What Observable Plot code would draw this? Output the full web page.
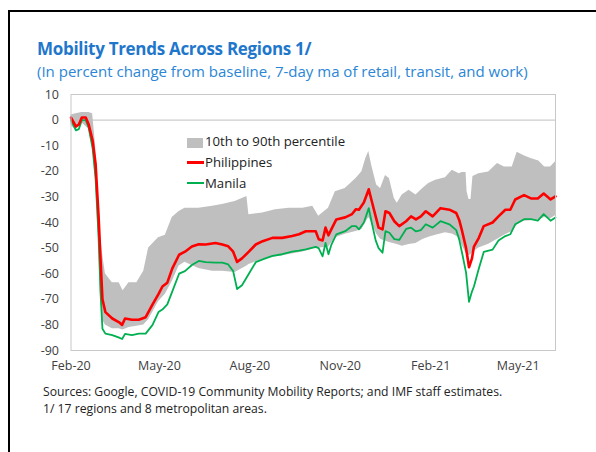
<!DOCTYPE html>
<html>
<head>
<meta charset="utf-8">
<script src="https://cdn.jsdelivr.net/npm/d3@7"></script>
<script src="https://cdn.jsdelivr.net/npm/@observablehq/plot@0.6"></script>
<style>
  html, body { margin: 0; padding: 0; background: #fff; }
  #wrap { position: relative; width: 596px; height: 452px; overflow: hidden; font-family: "Open Sans", "Noto Sans", sans-serif; }
  #border { position: absolute; left: 8px; top: 10px; width: 620px; height: 480px; border-top: 2.5px solid #000; border-left: 2px solid #000; box-sizing: border-box; }
  #chart { position: absolute; left: 0; top: 0; }
  .t { position: absolute; white-space: nowrap; line-height: 1; }
  #title { left: 37px; top: 39.5px; font-size: 17px; font-weight: 700; color: #1f77cc; letter-spacing: -0.3px; }
  #subtitle { left: 37px; top: 63.5px; font-size: 15px; color: #2a86d6; }
  #src1 { left: 43px; top: 386px; font-size: 12.2px; color: #222; }
  #src2 { left: 43px; top: 403px; font-size: 12.2px; color: #222; }
  .leg { position: absolute; font-size: 13.2px; color: #222; line-height: 1; white-space: nowrap; }
  .sw { position: absolute; }
</style>
</head>
<body>
<div id="wrap">
  <div id="chart"></div>
  <div id="border"></div>
  <div class="t" id="title">Mobility Trends Across Regions 1/</div>
  <div class="t" id="subtitle">(In percent change from baseline, 7-day ma of retail, transit, and work)</div>
  <div class="t" id="src1">Sources: Google, COVID-19 Community Mobility Reports; and IMF staff estimates.</div>
  <div class="t" id="src2">1/ 17 regions and 8 metropolitan areas.</div>
  <div class="sw" style="left:187px;top:138px;width:16px;height:10px;background:#BFBFBF"></div>
  <div class="leg" style="left:205px;top:135px">10th to 90th percentile</div>
  <div class="sw" style="left:187px;top:161px;width:17px;height:3px;background:#FF0000"></div>
  <div class="leg" style="left:205px;top:156px">Philippines</div>
  <div class="sw" style="left:187px;top:182px;width:17px;height:2px;background:#00B050"></div>
  <div class="leg" style="left:205px;top:177px">Manila</div>
</div>
<script>
// ---- Data ----
const lineDates = [
  "2020-02-15","2020-02-20","2020-02-23","2020-02-26","2020-03-01","2020-03-04","2020-03-08","2020-03-11","2020-03-14","2020-03-16",
  "2020-03-18","2020-03-21","2020-03-28","2020-04-04","2020-04-07","2020-04-10","2020-04-17","2020-04-24","2020-05-01","2020-05-08",
  "2020-05-14","2020-05-18","2020-05-23","2020-05-28","2020-06-04","2020-06-10","2020-06-17","2020-06-24","2020-07-01","2020-07-11",
  "2020-07-18","2020-07-24","2020-07-29","2020-08-02","2020-08-07","2020-08-14","2020-08-21","2020-08-28","2020-09-07","2020-09-17",
  "2020-09-27","2020-10-04","2020-10-11","2020-10-21","2020-10-24","2020-10-28","2020-10-31","2020-11-03","2020-11-06","2020-11-11",
  "2020-11-20","2020-11-27","2020-12-01","2020-12-04","2020-12-09","2020-12-14","2020-12-17","2020-12-21","2020-12-24","2020-12-28",
  "2020-12-31","2021-01-04","2021-01-09","2021-01-14","2021-01-21","2021-01-26","2021-01-31","2021-02-05","2021-02-10","2021-02-17",
  "2021-02-25","2021-03-06","2021-03-13","2021-03-16","2021-03-19","2021-03-23","2021-03-26","2021-03-29","2021-03-31","2021-04-05",
  "2021-04-10","2021-04-19","2021-04-25","2021-05-02","2021-05-07","2021-05-12","2021-05-21","2021-05-28","2021-06-04","2021-06-10",
  "2021-06-17","2021-06-22"
];
const philippines = [
  1, -2.5, -1.7, 1, 1, -1.7, -8, -17, -37, -54,
  -70, -75, -77.5, -79, -80, -77.5, -78, -78, -77, -72,
  -68, -65, -63.5, -58, -52.6, -51.4, -49.4, -48.5, -48.6, -48,
  -48.6, -49.3, -51.4, -55.4, -54, -51.4, -48.6, -47.3, -46, -46,
  -45.3, -44.6, -43.4, -43.4, -46.5, -47, -42, -45, -42.6, -38.8,
  -38, -36.7, -34.8, -35, -32.2, -27, -31.6, -37.6, -42, -42.7,
  -35.6, -36.3, -39.5, -41.4, -39.5, -37.6, -38.8, -37.6, -35.6, -37.6,
  -34.4, -35, -36.3, -39, -43.4, -50, -57.5, -54, -49.4, -46,
  -41.4, -40, -37.6, -35, -35, -31, -29.3, -30.6, -30.6, -28.7,
  -31, -29.8
];
const manila = [
  0, -4, -3.5, 0, 0, -3, -11, -22.6, -45, -67,
  -81.5, -83.4, -84, -85, -85.5, -83.5, -84, -83.4, -83.4, -80,
  -75, -74, -72, -67, -60, -59, -56.6, -55, -55.5, -55.7,
  -55.7, -56.4, -59, -66, -64.5, -60, -55.5, -54.4, -53, -52.4,
  -51.4, -51, -50.5, -49.5, -50, -53.2, -48, -52.4, -48.6, -44.6,
  -43.4, -41.4, -41.4, -42.7, -40, -34.4, -40, -47, -50, -51.8,
  -43.4, -44, -46.5, -46.8, -42.5, -42, -43.5, -43, -40.7, -42,
  -39.5, -40.7, -43, -46.6, -52, -59.6, -71, -67, -65, -58,
  -51.5, -50.6, -47, -45.3, -44.6, -40.7, -38.7, -38.7, -39.3, -36.7,
  -39.3, -38
];
const bandDates = [
  "2020-02-15","2020-02-20","2020-02-26","2020-03-04","2020-03-08","2020-03-11","2020-03-14","2020-03-16","2020-03-18","2020-03-21",
  "2020-03-28","2020-04-04","2020-04-08","2020-04-14","2020-04-22","2020-04-29","2020-05-04","2020-05-14","2020-05-21","2020-05-28",
  "2020-06-04","2020-06-10","2020-06-24","2020-07-08","2020-07-18","2020-07-31","2020-08-12","2020-08-14","2020-08-28","2020-09-10",
  "2020-09-24","2020-10-08","2020-10-18","2020-10-24","2020-11-03","2020-11-10","2020-11-20","2020-12-01","2020-12-07","2020-12-11",
  "2020-12-14","2020-12-17","2020-12-22","2020-12-26","2020-12-31","2021-01-04","2021-01-09","2021-01-12","2021-01-17","2021-01-24",
  "2021-01-31","2021-02-07","2021-02-13","2021-02-20","2021-03-02","2021-03-09","2021-03-16","2021-03-19","2021-03-23","2021-03-24",
  "2021-03-26","2021-03-28","2021-03-30","2021-04-05","2021-04-15","2021-04-24","2021-05-01","2021-05-09","2021-05-14","2021-05-21",
  "2021-05-28","2021-06-05","2021-06-11","2021-06-17","2021-06-22"
];
const p90 = [
  2, 2.5, 3, 3, 2.5, -10, -30, -45, -52, -60,
  -63.5, -63.5, -66.7, -63.5, -63.5, -59, -50, -46, -45, -38,
  -35.7, -34.4, -34.4, -33.7, -33, -31.8, -29.8, -37, -36.3, -35,
  -34.4, -34.4, -33.7, -37.6, -34.4, -28, -26.7, -22.8, -20.2, -15,
  -12.3, -17.7, -25.4, -26.7, -21.6, -22.8, -30.6, -32.5, -29.3, -27.4,
  -29.3, -26.7, -24.8, -23.5, -22.5, -19.6, -21, -20.5, -20.5, -28,
  -31, -31, -22, -21, -20.3, -17, -18.3, -18.3, -12.6, -13.9,
  -15, -16, -18.3, -18.3, -16.3
];
const p10 = [
  -2, -4, -1, -3.5, -11, -24, -47, -68, -78, -80,
  -81.5, -81.5, -82, -81, -80.5, -80, -78, -71, -68, -63,
  -57, -55.5, -58, -59, -59, -59.5, -57, -56.4, -54.4, -53.5,
  -52.5, -51.5, -50.4, -50, -49.7, -46, -44.6, -43.5, -42.7, -40,
  -38, -40, -44.5, -46.5, -47.3, -47.8, -48.3, -48.6, -49.3, -48.6,
  -48.2, -46.6, -45.8, -45, -44, -44.5, -46, -49, -52, -52.5,
  -53, -52.5, -51.5, -50, -48.5, -46.5, -45, -43.5, -41, -39.5,
  -39.3, -39, -38, -38.5, -37.4
];
const xTickDates = ["2020-02-15","2020-05-15","2020-08-15","2020-11-15","2021-02-15","2021-05-15"];
const yTicks = [10, 0, -10, -20, -30, -40, -50, -60, -70, -80, -90];

// ---- Build tables ----
const parse = d3.utcParse("%Y-%m-%d");
const lines = lineDates.map((d, i) => ({date: parse(d), philippines: philippines[i], manila: manila[i]}));
const band = bandDates.map((d, i) => ({date: parse(d), hi: p90[i], lo: p10[i]}));

const chart = Plot.plot({
  width: 596,
  height: 452,
  marginLeft: 70.5,
  marginRight: 41,
  marginTop: 94,
  marginBottom: 102,
  style: {fontFamily: "'Open Sans', 'Noto Sans', sans-serif", fontSize: "12.5px", color: "#404040", background: "transparent"},
  x: {type: "utc", domain: [parse("2020-02-15"), parse("2021-06-22")], ticks: xTickDates.map(parse),
      tickFormat: d3.utcFormat("%b-%y"), tickSize: 0, tickPadding: 11, label: null},
  y: {domain: [-90, 10], ticks: yTicks, tickFormat: d => String(d), tickSize: 0, tickPadding: 12, label: null},
  marks: [
    Plot.areaY(band, {x: "date", y1: "lo", y2: "hi", fill: "#BFBFBF", curve: "linear"}),
    Plot.ruleY([0], {stroke: "#BFBFBF", strokeWidth: 1}),
    Plot.lineY(lines, {x: "date", y: "manila", stroke: "#00B050", strokeWidth: 1.8}),
    Plot.lineY(lines, {x: "date", y: "philippines", stroke: "#FF0000", strokeWidth: 2.6}),
    Plot.frame({stroke: "#C8C8C8", strokeWidth: 1})
  ]
});
document.getElementById("chart").appendChild(chart);
</script>
</body>
</html>
